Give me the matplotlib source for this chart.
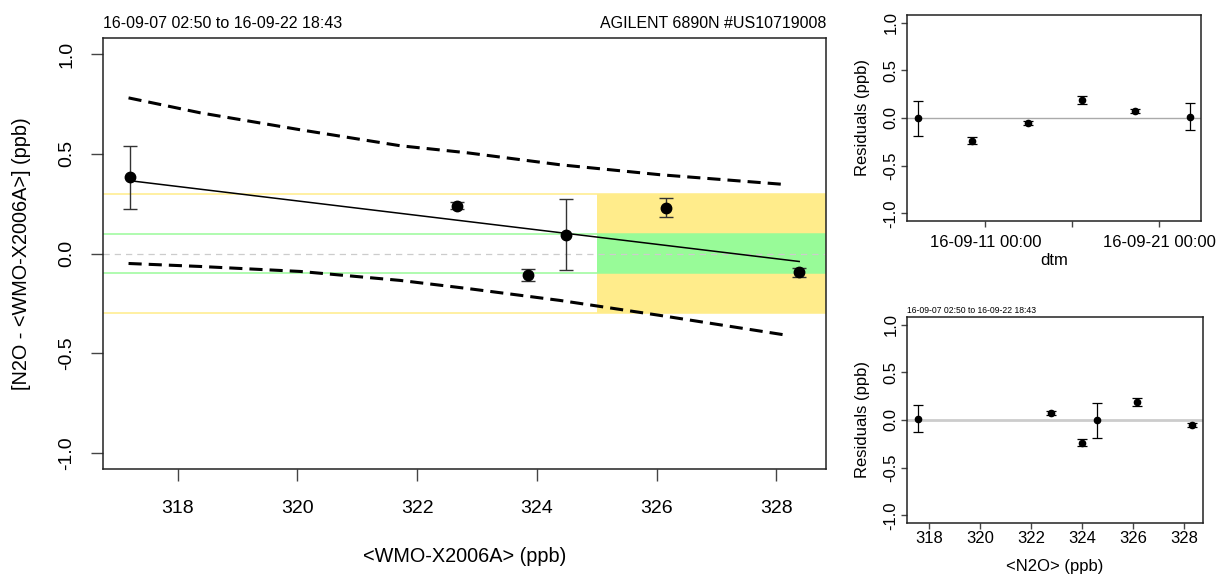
########################################################################
#   N2O calibration check: difference vs WMO-X2006A scale with fit,
#   prediction band and residual panels (vs time and vs N2O)
########################################################################
import datetime
import numpy as np
import matplotlib
matplotlib.use("Agg")
import matplotlib.pyplot as plt
import matplotlib.dates as mdates
from matplotlib.ticker import FormatStrFormatter

plt.rcParams['font.family'] = ['Liberation Sans', 'DejaVu Sans']
plt.rcParams['axes.unicode_minus'] = False

#-----------------------------------------------------------------------
# data
title_left = "16-09-07 02:50 to 16-09-22 18:43"
title_right = "AGILENT 6890N #US10719008"

wmo_x = [317.20, 322.67, 323.85, 324.48, 326.15, 328.38]
diff_y = [0.383, 0.240, -0.110, 0.095, 0.230, -0.095]
diff_err = [0.158, 0.018, 0.030, 0.180, 0.046, 0.023]

fit_x = [317.20, 328.38]
fit_y = [0.365, -0.040]

band_x = [317.18, 318.38, 320.05, 321.72, 322.83, 324.38, 326.05, 328.18]
band_upper = [0.780, 0.705, 0.620, 0.540, 0.505, 0.445, 0.395, 0.345]
band_lower = [-0.050, -0.065, -0.090, -0.135, -0.175, -0.235, -0.310, -0.410]

shade_start = 325.0
tol_outer = 0.3
tol_inner = 0.1

# residuals, ordered by <N2O>
n2o_x = [317.56, 322.78, 323.97, 324.57, 326.15, 328.30]
resid = [0.015, 0.077, -0.236, -0.005, 0.190, -0.052]
resid_err = [0.145, 0.020, 0.035, 0.180, 0.045, 0.022]
resid_time = ["16-09-22 18:43", "16-09-19 14:40", "16-09-10 06:00",
              "16-09-07 02:50", "16-09-16 13:10", "16-09-13 10:20"]

date_ticks = ["16-09-11 00:00", "16-09-16 00:00", "16-09-21 00:00"]
date_tick_labels = ["16-09-11 00:00", "", "16-09-21 00:00"]

ylims = (-1.08, 1.08)
yticks = [-1.0, -0.5, 0.0, 0.5, 1.0]


#-----------------------------------------------------------------------
def r_range(vals):
    # R style axis range: data range plus 4% on each side
    lo, hi = min(vals), max(vals)
    pad = 0.04 * (hi - lo)
    return lo - pad, hi + pad


def to_dt(s):
    return mdates.date2num(datetime.datetime.strptime(s, "%y-%m-%d %H:%M"))


def style_axes(ax, tick_size, tick_len, xpad, ypad):
    for sp in ax.spines.values():
        sp.set_color('#222222')
        sp.set_linewidth(1.1)
    ax.tick_params(axis='both', length=tick_len, width=1.0, color='#444444',
                   labelsize=tick_size)
    ax.tick_params(axis='x', pad=xpad)
    ax.tick_params(axis='y', pad=ypad, labelrotation=90)
    for lab in ax.get_yticklabels():
        lab.set_va('center')
    ax.set_ylim(*ylims)
    ax.set_yticks(yticks)
    ax.yaxis.set_major_formatter(FormatStrFormatter('%.1f'))


#-----------------------------------------------------------------------
fig = plt.figure(figsize=(12.17, 5.77), dpi=100)

# ---main panel---------------------------------------------------------
ax = fig.add_axes([0.0846, 0.1872, 0.5941, 0.7469])
xmin, xmax = r_range(wmo_x)

ax.fill_between([shade_start, xmax], -tol_outer, tol_outer,
                color='#FFEC8B', lw=0, zorder=0.5)
ax.fill_between([shade_start, xmax], -tol_inner, tol_inner,
                color='#98FB98', lw=0, zorder=0.6)
for v in (tol_outer, -tol_outer):
    ax.axhline(v, color='#FFEC8B', lw=1.4, alpha=0.8, zorder=1)
for v in (tol_inner, -tol_inner):
    ax.axhline(v, color='#98FB98', lw=1.2, alpha=0.9, zorder=1)
ax.axhline(0, color='#CCCCCC', lw=0.9, dashes=(5, 4), zorder=1)

ax.plot(band_x, band_upper, color='black', lw=2.2, dashes=(4.3, 2.3), zorder=2)
ax.plot(band_x, band_lower, color='black', lw=2.2, dashes=(4.3, 2.3), zorder=2)
ax.plot(fit_x, fit_y, color='black', lw=1.1, zorder=3)
ax.errorbar(wmo_x, diff_y, yerr=diff_err, fmt='o', color='black', ms=7.5,
            ecolor='#333333', elinewidth=1.0, capsize=4.7, capthick=1.0,
            zorder=4)

ax.set_xlim(xmin, xmax)
ax.set_xticks(np.arange(318, 329, 2))
style_axes(ax, 14, 8.6, 14, 11.5)

ax.set_xlabel("<WMO-X2006A> (ppb)", fontsize=14.3)
ax.xaxis.set_label_coords(0.5, -0.202)
ax.xaxis.label.set_va('center')
ax.set_ylabel("[N2O - <WMO-X2006A>] (ppb)", fontsize=14.3)
ax.yaxis.set_label_coords(-0.112, 0.5)
ax.yaxis.label.set_va('center')
ax.set_title(title_left, loc='left', fontsize=11.5, pad=7)
ax.set_title(title_right, loc='right', fontsize=11.5, pad=7)

# ---residuals vs time--------------------------------------------------
ax2 = fig.add_axes([0.7453, 0.617, 0.2416, 0.357])
t = [to_dt(s) for s in resid_time]
ax2.axhline(0, color='#AAAAAA', lw=1.0, zorder=1)
ax2.errorbar(t, resid, yerr=resid_err, fmt='o', color='black', ms=4.5,
             ecolor='black', elinewidth=0.9, capsize=3.3, capthick=0.9,
             zorder=3)
ax2.set_xlim(*r_range(t))
ax2.set_xticks([to_dt(s) for s in date_ticks])
ax2.set_xticklabels(date_tick_labels)
style_axes(ax2, 12, 4.3, 5.5, 2)
ax2.set_xlabel("dtm", fontsize=12)
ax2.xaxis.set_label_coords(0.5, -0.19)
ax2.xaxis.label.set_va('center')
ax2.set_ylabel("Residuals (ppb)", fontsize=12)
ax2.yaxis.set_label_coords(-0.15, 0.5)
ax2.yaxis.label.set_va('center')

# ---residuals vs N2O---------------------------------------------------
ax3 = fig.add_axes([0.7453, 0.0936, 0.2432, 0.357])
ax3.axhline(0, color='#CCCCCC', lw=2.0, zorder=1)
ax3.errorbar(n2o_x, resid, yerr=resid_err, fmt='o', color='black', ms=4.5,
             ecolor='black', elinewidth=0.9, capsize=3.3, capthick=0.9,
             zorder=3)
ax3.set_xlim(*r_range(n2o_x))
ax3.set_xticks(np.arange(318, 329, 2))
style_axes(ax3, 12, 4.3, 1.5, 2)
ax3.set_xlabel("<N2O> (ppb)", fontsize=12)
ax3.xaxis.set_label_coords(0.5, -0.21)
ax3.xaxis.label.set_va('center')
ax3.set_ylabel("Residuals (ppb)", fontsize=12)
ax3.yaxis.set_label_coords(-0.15, 0.5)
ax3.yaxis.label.set_va('center')
ax3.set_title(title_left, loc='left', fontsize=6.2, pad=3)

fig.savefig("out.png", dpi=100)
